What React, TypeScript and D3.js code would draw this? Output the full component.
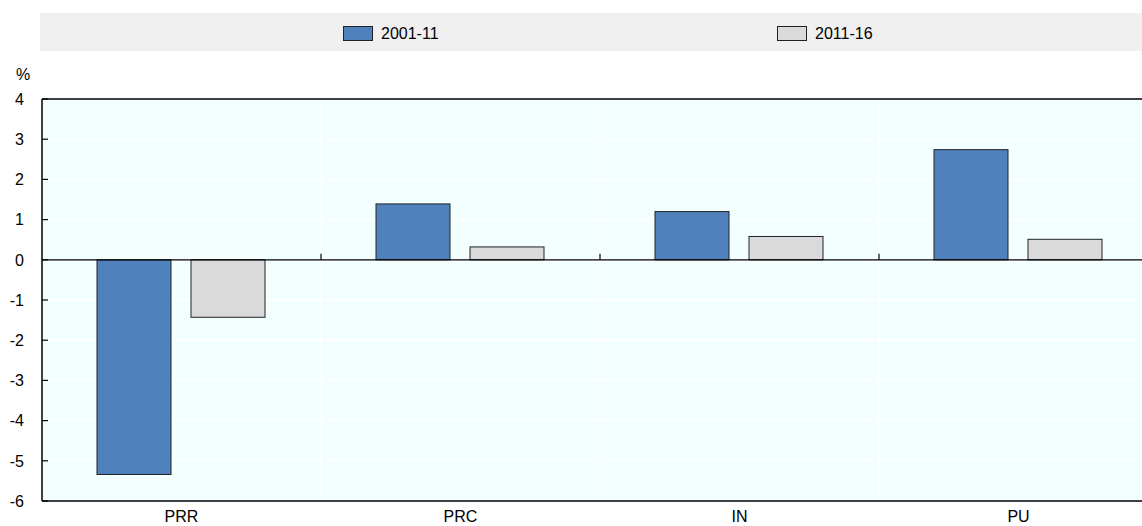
import React from "react";
import * as d3 from "d3";

const categories = ["PRR", "PRC", "IN", "PU"];
const seriesNames = ["2001-11", "2011-16"];
const values2001_11 = [-5.34, 1.39, 1.2, 2.74];
const values2011_16 = [-1.43, 0.32, 0.58, 0.51];
const yTicks = [4, 3, 2, 1, 0, -1, -2, -3, -4, -5, -6];
const seriesColors = ["#4F81BD", "#DADADA"];

const W = 1142;
const H = 526;
const FONT = "'Liberation Sans', Arial, sans-serif";
const FS = 16;

export default function App() {
  const left = 42;
  const top = 99;
  const bottom = 501;
  const y = d3.scaleLinear().domain([-6, 4]).range([bottom, top]);
  const x0 = d3.scaleBand<string>().domain(categories).range([left, left + 4 * 279]).padding(0);
  const x1 = d3
    .scaleBand<string>()
    .domain(seriesNames)
    .range([55, 223])
    .paddingInner(20 / 94)
    .paddingOuter(0);
  const seriesValues = [values2001_11, values2011_16];
  const y0 = y(0);

  return (
    <div style={{ position: "absolute", left: 0, top: 0 }}>
      <svg width={W} height={H} style={{ display: "block" }} fontFamily={FONT}>
        {/* legend */}
        <rect x={40} y={13} width={W - 40} height={38} fill="#F0F0F0" />
        {seriesNames.map((s, i) => {
          const lx = i === 0 ? 343 : 777;
          return (
            <g key={s}>
              <rect x={lx + 0.5} y={26.5} width={29} height={14} fill={seriesColors[i]} stroke="#222" strokeWidth={1} />
              <text x={lx + 38} y={39} fontSize={FS} fill="#000">
                {s}
              </text>
            </g>
          );
        })}

        {/* plot background */}
        <rect x={left} y={top} width={W - left} height={bottom - top} fill="#F3FFFF" />
        {yTicks.map((t) => (
          <line key={"g" + t} x1={left} x2={W} y1={y(t)} y2={y(t)} stroke="#FFFFFF" strokeWidth={1.5} />
        ))}
        {categories.slice(1).map((c) => (
          <line key={"v" + c} x1={x0(c)!} x2={x0(c)!} y1={top} y2={bottom} stroke="#FFFFFF" strokeWidth={1.5} />
        ))}

        {/* bars */}
        {categories.map((c, ci) =>
          seriesNames.map((s, si) => {
            const v = seriesValues[si][ci];
            const bx = x0(c)! + x1(s)!;
            const yt = Math.min(y(v), y0);
            const h = Math.abs(y(v) - y0);
            return (
              <rect
                key={c + s}
                x={bx}
                y={yt}
                width={x1.bandwidth()}
                height={h}
                fill={seriesColors[si]}
                stroke="#222"
                strokeWidth={1}
              />
            );
          })
        )}

        {/* zero line */}
        <line x1={left} x2={W} y1={y0} y2={y0} stroke="#000" strokeWidth={1.2} />
        {categories.slice(1).map((c) => (
          <line key={"t" + c} x1={x0(c)!} x2={x0(c)!} y1={y0 - 6} y2={y0} stroke="#000" strokeWidth={1.2} />
        ))}

        {/* axes frame */}
        <line x1={left} x2={W} y1={top} y2={top} stroke="#000" strokeWidth={1.5} />
        <line x1={left} x2={W} y1={bottom} y2={bottom} stroke="#000" strokeWidth={1.5} />
        <line x1={left} x2={left} y1={top} y2={bottom} stroke="#000" strokeWidth={1.5} />

        {/* y ticks */}
        {yTicks.map((t) => (
          <g key={"yt" + t}>
            <line x1={left} x2={left + 6} y1={y(t)} y2={y(t)} stroke="#000" strokeWidth={1.2} />
            <text x={24} y={y(t)} dy="0.36em" textAnchor="end" fontSize={FS} fill="#000">
              {t}
            </text>
          </g>
        ))}
        <text x={16} y={80} fontSize={FS} fill="#000">
          %
        </text>

        {/* x labels */}
        {categories.map((c) => (
          <text key={"xl" + c} x={x0(c)! + x0.bandwidth() / 2} y={522} textAnchor="middle" fontSize={FS} fill="#000">
            {c}
          </text>
        ))}
      </svg>
    </div>
  );
}
